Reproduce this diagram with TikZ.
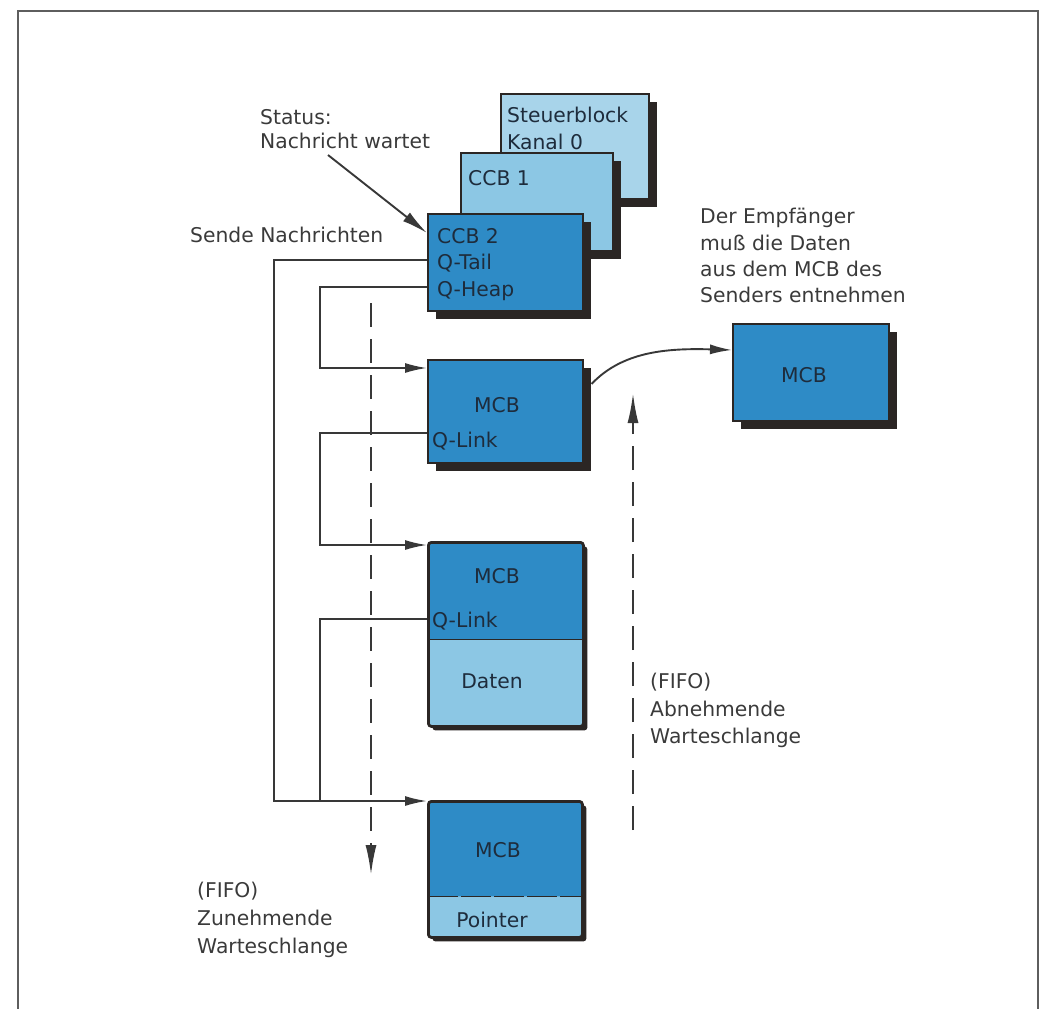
\documentclass[tikz,border=0pt]{standalone}
\usepackage{fontspec}
\setmainfont{DejaVu Sans}
\usetikzlibrary{arrows.meta,shadows}
\definecolor{dblue}{HTML}{2E8BC6}
\definecolor{lblue}{HTML}{8CC7E4}
\definecolor{pblue}{HTML}{A8D4EA}
\definecolor{shad}{HTML}{2B2624}
\definecolor{lin}{HTML}{383838}
\definecolor{txt}{HTML}{3A3A3A}
\definecolor{btxt}{HTML}{1E2C3C}
\definecolor{framec}{HTML}{5E5E5E}
\begin{document}
\begin{tikzpicture}[x=1pt,y=-1pt,
  lbl/.style={font=\fontsize{20.3}{27}\selectfont,text=txt,inner sep=0pt,align=left,anchor=north west},
  btx/.style={font=\fontsize{20.3}{26.5}\selectfont,text=btxt,inner sep=0pt,align=left},
  blk/.style={draw=shad,line width=1.5pt,anchor=north west,inner sep=0pt,
    drop shadow={shadow xshift=8pt,shadow yshift=-8pt,fill=shad,opacity=1}},
  lowblk/.style={draw=shad,line width=2.8pt,rounded corners=3pt,anchor=north west,inner sep=0pt,
    drop shadow={shadow xshift=4pt,shadow yshift=-4pt,fill=shad,opacity=1}},
  conn/.style={draw=lin,line width=1.9pt},
  tip/.style={-{Latex[length=22pt,width=10pt]}},
  queue/.style={draw=lin,line width=2.2pt,dash pattern=on 24pt off 12pt},
]
\useasboundingbox (0,0) rectangle (1052,1009);
% frame
\draw[framec,line width=2.2pt] (18,1009) -- (18,11) -- (1038,11) -- (1038,1009);

% channel control blocks
\node[blk,fill=pblue,minimum width=148pt,minimum height=105pt] (ch0) at (500,93) {};
\node[blk,fill=lblue,minimum width=152pt,minimum height=98pt] (ccb1) at (460,152) {};
\node[blk,fill=dblue,minimum width=155pt,minimum height=97pt] (ccb2) at (427,213) {};
\node[btx,anchor=north west] (t0) at (507,107) {Steuerblock\\Kanal 0};
\node[btx,anchor=north west] (t1) at (468,170) {CCB 1};
\node[btx,anchor=north west] (t2) at (437,228) {CCB 2\\Q-Tail\\Q-Heap};

% message control blocks
\node[blk,fill=dblue,minimum width=155pt,minimum height=103pt] (mcb1) at (427,359) {};
\node[btx,anchor=base] (m1t) at (497,412) {MCB};
\node[btx,anchor=base west] (m1q) at (432,447) {Q-Link};

\node[blk,fill=dblue,minimum width=156pt,minimum height=97pt] (mcbr) at (732,323) {};
\node[btx,anchor=base] (mrt) at (804,382) {MCB};

\node[lowblk,fill=lblue,minimum width=155pt,minimum height=184pt,
  path picture={\fill[dblue] (path picture bounding box.north west) rectangle ([yshift=-97pt]path picture bounding box.north east);
  \draw[shad,line width=1.8pt] ([yshift=-97pt]path picture bounding box.north west) -- ([yshift=-97pt]path picture bounding box.north east);}] (mcb2) at (427,541) {};
\node[btx,anchor=base] (m2t) at (497,583) {MCB};
\node[btx,anchor=base west] (m2q) at (432,627) {Q-Link};
\node[btx,anchor=base] (m2d) at (492,688) {Daten};

\node[lowblk,fill=lblue,minimum width=154pt,minimum height=136pt,
  path picture={\fill[dblue] (path picture bounding box.north west) rectangle ([yshift=-95pt]path picture bounding box.north east);
  \draw[shad,line width=1.8pt,dash pattern=on 30pt off 3pt] ([yshift=-95pt]path picture bounding box.north west) -- ([yshift=-95pt]path picture bounding box.north east);}] (mcb3) at (427,800) {};
\node[btx,anchor=base] (m3t) at (498,857) {MCB};
\node[btx,anchor=base] (m3p) at (492,927) {Pointer};

% labels
\node[lbl,font=\fontsize{20.3}{24}\selectfont] (status) at (260,109) {Status:\\Nachricht wartet};
\node[lbl] (sende) at (190,227) {Sende Nachrichten};
\node[lbl,font=\fontsize{20.3}{26.4}\selectfont] (empf) at (700,208) {Der Empfänger\\muß die Daten\\aus dem MCB des\\Senders entnehmen};
\node[lbl,font=\fontsize{20.3}{27.5}\selectfont] (fifoab) at (650,673) {(FIFO)\\Abnehmende\\Warteschlange};
\node[lbl,font=\fontsize{20.3}{28}\selectfont] (fifozu) at (197,882) {(FIFO)\\Zunehmende\\Warteschlange};

% status arrow
\coordinate (sa) at (328,155);
\draw[conn,-{Latex[length=26pt,width=11pt]}] (sa) -- ([yshift=-20pt]ccb2.north west);

% queue pointers
\draw[conn,tip] ([yshift=-47pt]ccb2.north west) -| ([xshift=-153pt,yshift=-1pt]mcb3.north west) -- ([yshift=-1pt]mcb3.north west);
\draw[conn,tip] ([yshift=-74pt]ccb2.north west) -| ([xshift=-107pt,yshift=-9pt]mcb1.north west) -- ([yshift=-9pt]mcb1.north west);
\draw[conn,tip] ([yshift=-74pt]mcb1.north west) -| ([xshift=-107pt,yshift=-4pt]mcb2.north west) -- ([yshift=-4pt]mcb2.north west);
\draw[conn] ([yshift=-78pt]mcb2.north west) -| ([xshift=-107pt,yshift=-1pt]mcb3.north west);

% receiver takes data
\draw[conn,tip] ([xshift=8pt,yshift=-25pt]mcb1.north east) .. controls (622,352) and (665,348) .. ([yshift=-27pt]mcbr.north west);

% FIFO directions
\coordinate (qin) at (371,303);
\coordinate (qend) at (371,875);
\draw[queue,-{Latex[length=30pt,width=11pt]}] (qin) -- (qend);
\coordinate (qbot) at (633,830);
\coordinate (qtop) at (633,393);
\draw[queue,-{Latex[length=30pt,width=11pt]}] (qbot) -- (qtop);
\end{tikzpicture}
\end{document}
